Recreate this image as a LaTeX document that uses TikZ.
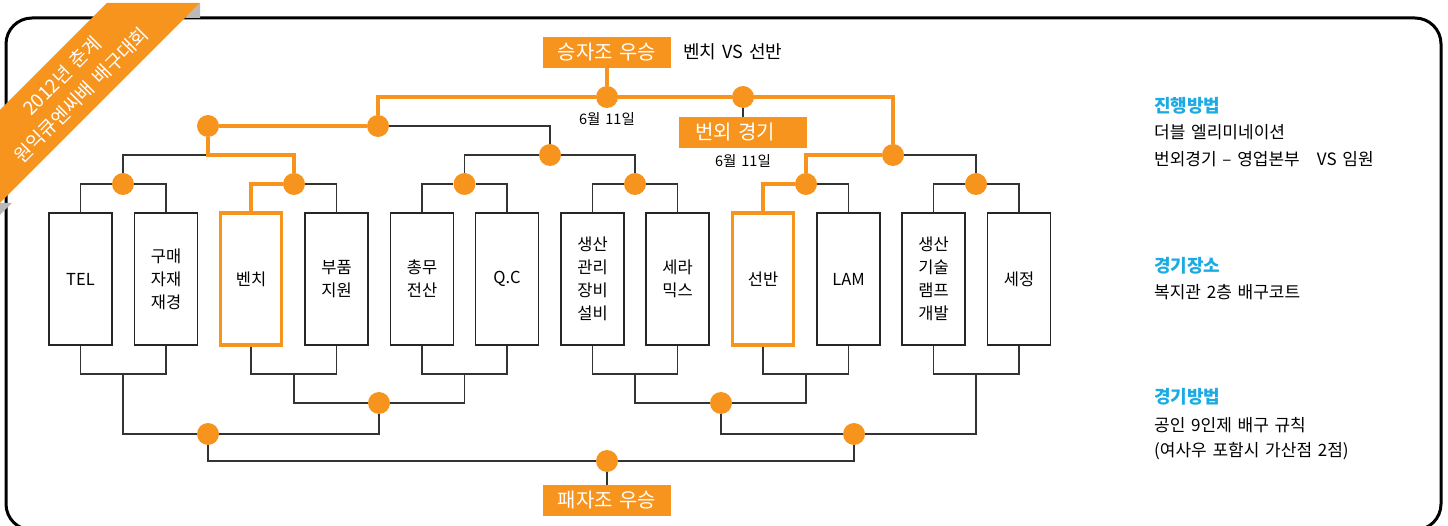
\documentclass[tikz,border=0pt]{standalone}
\usepackage{fontspec}
\setmainfont{Noto Sans CJK KR}[WordSpace=1.5]
\usepackage{xcolor}

\definecolor{tourorange}{RGB}{247,148,30}
\definecolor{headblue}{RGB}{27,171,226}

\begin{document}
\begin{tikzpicture}[x=1pt, y=-1pt,
    team/.style={rectangle, draw=black!85, line width=1.5pt, minimum width=63pt, minimum height=132pt, inner sep=0pt, align=center, font=\fontsize{16.5}{23}\selectfont},
    pick/.style={team, draw=tourorange, line width=3.5pt, minimum width=61pt},
    ball/.style={circle, fill=tourorange, minimum size=22pt, inner sep=0pt},
    tag/.style={rectangle, fill=tourorange, text=white, minimum width=128pt, minimum height=31pt, inner sep=0pt, font=\fontsize{20}{20}\selectfont},
    note/.style={anchor=west, inner sep=0pt, font=\fontsize{17}{17}\selectfont},
    headtxt/.style={note, text=headblue, font=\fontsize{18}{18}\selectfont\bfseries},
    day/.style={inner sep=0pt, font=\fontsize{14.5}{14.5}\selectfont},
    wire/.style={draw=black!80, line width=1.5pt},
    hot/.style={draw=tourorange, line width=3.2pt}]

    \useasboundingbox (0,0) rectangle (1448,526);
    \clip (0,0) rectangle (1448,526);

    \draw[line width=3pt, rounded corners=26pt] (6,18) rectangle (1441,530);

    \fill[gray!55] (200,3) -- (200,18) -- (185,18) -- cycle;
    \fill[gray!55] (0,203) -- (12,203) -- (0,215) -- cycle;
    \fill[tourorange] (107,3) -- (200,3) -- (0,203) -- (0,110) -- cycle;
    \node[white, rotate=45, align=center, inner sep=0pt, font=\fontsize{19}{27}\selectfont] (ribbon) at (71.5,85.5) {2012년 춘계\\원익큐엔씨배 배구대회};

    \node[team] (t1) at (80.5,279) {TEL};
    \node[team] (t2) at (166,279) {구매\\자재\\재경};
    \node[pick] (t3) at (251,279) {벤치};
    \node[team] (t4) at (336.5,279) {부품\\지원};
    \node[team] (t5) at (422,279) {총무\\전산};
    \node[team] (t6) at (507,279) {Q.C};
    \node[team] (t7) at (592.5,279) {생산\\관리\\장비\\설비};
    \node[team] (t8) at (677.5,279) {세라\\믹스};
    \node[pick] (t9) at (763,279) {선반};
    \node[team] (t10) at (848.5,279) {LAM};
    \node[team] (t11) at (933.5,279) {생산\\기술\\램프\\개발};
    \node[team] (t12) at (1019,279) {세정};

    \node[ball] (a1) at (123,184) {};
    \node[ball] (a2) at (294,184) {};
    \node[ball] (a3) at (464.5,184) {};
    \node[ball] (a4) at (635,184) {};
    \node[ball] (a5) at (806,184) {};
    \node[ball] (a6) at (976,184) {};
    \node[ball] (b1) at (208,126) {};
    \node[ball] (b2) at (550,155) {};
    \node[ball] (b3) at (893,155) {};
    \node[ball] (c1) at (378,126) {};
    \node[ball] (f1) at (607,97) {};
    \node[ball] (f2) at (743,97) {};

    \node[tag] (win) at (607,52.5) {승자조 우승};
    \node[note, font=\fontsize{18}{18}\selectfont] (winpair) at (683,52) {벤치 VS 선반};
    \node[day] (day1) at (607,119) {6월 11일};
    \node[tag, text width=96pt, align=left, inner xsep=16pt] (extra) at (743,132.5) {번외 경기};
    \node[day] (day2) at (743,161) {6월 11일};

    \coordinate (j1) at (208,155);
    \coordinate (p1) at (123,374);
    \coordinate (p2) at (294,374);
    \coordinate (p3) at (464.5,374);
    \coordinate (p4) at (635,374);
    \coordinate (p5) at (806,374);
    \coordinate (p6) at (976,374);
    \node[ball] (e1) at (379,403) {};
    \node[ball] (e2) at (208,434) {};
    \node[ball] (e3) at (721,403) {};
    \node[ball] (e4) at (854,434) {};
    \node[ball] (g) at (607,461) {};
    \node[tag] (lose) at (607,500.5) {패자조 우승};

    \draw[wire] (t1.north) |- (a1);
    \draw[wire] (a1) -| (t2.north);
    \draw[hot] (t3.north) |- (a2);
    \draw[wire] (a2) -| (t4.north);
    \draw[wire] (t5.north) |- (a3);
    \draw[wire] (a3) -| (t6.north);
    \draw[wire] (t7.north) |- (a4);
    \draw[wire] (a4) -| (t8.north);
    \draw[hot] (t9.north) |- (a5);
    \draw[wire] (a5) -| (t10.north);
    \draw[wire] (t11.north) |- (a6);
    \draw[wire] (a6) -| (t12.north);

    \draw[wire] (a1) |- (j1);
    \draw[hot] (a2) |- (j1) -- (b1);
    \draw[wire] (a3) |- (b2) -| (a4);
    \draw[hot] (a5) |- (b3);
    \draw[wire] (b3) -| (a6);
    \draw[hot] (b1) -- (c1);
    \draw[wire] (c1) -| (b2);
    \draw[hot] (c1) |- (f1);
    \draw[hot] (f1) -- (f2);
    \draw[hot] (f2) -| (b3);
    \draw[hot] (win) -- (f1);
    \draw[wire] (f2) -- (extra);

    \draw[wire] (t1.south) |- (p1) -| (t2.south);
    \draw[wire] (t3.south) |- (p2) -| (t4.south);
    \draw[wire] (t5.south) |- (p3) -| (t6.south);
    \draw[wire] (t7.south) |- (p4) -| (t8.south);
    \draw[wire] (t9.south) |- (p5) -| (t10.south);
    \draw[wire] (t11.south) |- (p6) -| (t12.south);
    \draw[wire] (p2) |- (e1) -| (p3);
    \draw[wire] (p4) |- (e3) -| (p5);
    \draw[wire] (p1) |- (e2) -| (e1);
    \draw[wire] (e3) |- (e4) -| (p6);
    \draw[wire] (e2) |- (g);
    \draw[wire] (g) -| (e4);
    \draw[wire] (g) -- (lose);

    \node[headtxt] (how) at (1154,106) {진행방법};
    \node[note] (how1) at (1154,132) {더블 엘리미네이션};
    \node[note] (how2) at (1154,159) {번외경기 – 영업본부~~~VS 임원};
    \node[headtxt] (place) at (1154,266) {경기장소};
    \node[note] (place1) at (1154,292) {복지관 2층 배구코트};
    \node[headtxt] (rule) at (1154,397) {경기방법};
    \node[note] (rule1) at (1154,425) {공인 9인제 배구 규칙};
    \node[note] (rule2) at (1154,451) {(여사우 포함시 가산점 2점)};
\end{tikzpicture}
\end{document}
